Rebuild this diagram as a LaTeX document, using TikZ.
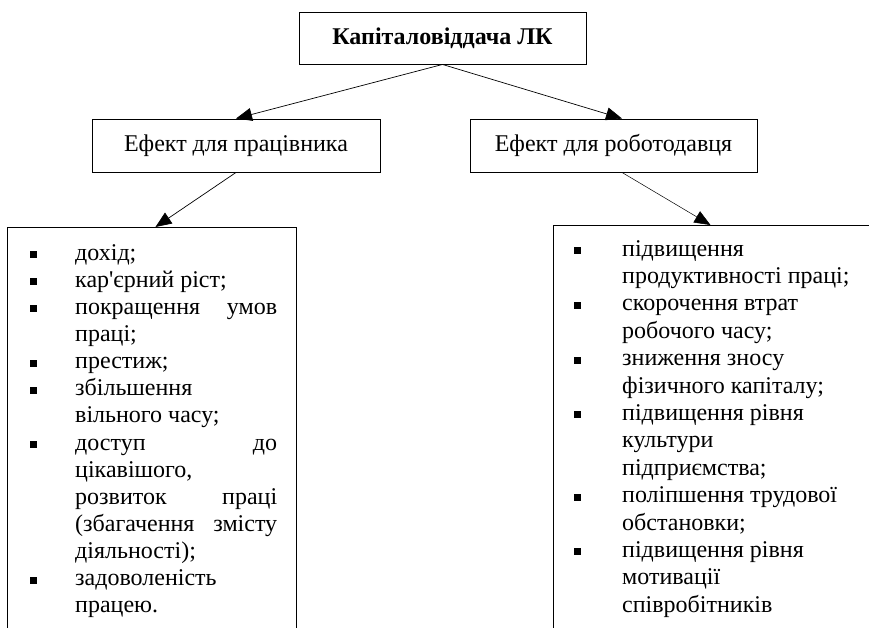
\documentclass[tikz,border=0pt]{standalone}
\usepackage{fontspec}
\setmainfont{Liberation Serif}[Ligatures=TeXOff]
\usetikzlibrary{arrows.meta}
\newcommand\bul{\raisebox{2pt}{\rule{7pt}{7pt}}}
\newcommand\lbit[1]{\hbox{\makebox[45.5pt][l]{\bul}#1}}
\newcommand\lcont[1]{\hbox{\hspace*{45.5pt}#1}}
\newcommand\rbit[1]{\hbox{\makebox[48pt][l]{\bul}#1}}
\newcommand\rcont[1]{\hbox{\hspace*{48pt}#1}}
\newcommand\jl[1]{\makebox[202pt][s]{#1}}
\begin{document}
\begin{tikzpicture}[x=1pt,y=-1pt,
  box/.style={draw, line width=0.9pt, inner sep=0pt},
  conn/.style={line width=0.7pt, -{Triangle[length=16pt,width=13pt]}},
  txt/.style={font=\fontsize{24}{27.15}\selectfont}]
\useasboundingbox (0,0) rectangle (869,627);
\clip (0,0) rectangle (869,627);
\node[box, minimum width=287pt, minimum height=52pt, font=\fontsize{24}{27.15}\selectfont\bfseries] (top) at (442.5,38) {Капіталовіддача ЛК};
\node[box, minimum width=288pt, minimum height=53pt, txt] (emp) at (236,145.5) {Ефект для працівника};
\node[box, minimum width=287pt, minimum height=53pt, txt] (empr) at (613.5,145.5) {Ефект для роботодавця};
\node[box, anchor=north west, minimum width=289pt, minimum height=460pt] (lbox) at (7,227) {};
\node[box, anchor=north west, minimum width=347pt, minimum height=460pt] (rbox) at (553,225) {};
\node[anchor=base west, inner sep=0pt] (ltext) at (29.5,260) {\parbox[t]{260pt}{\fontsize{24}{27.15}\selectfont\parindent0pt
\lbit{дохід;}
\lbit{кар'єрний ріст;}
\lbit{\jl{покращення умов}}
\lcont{праці;}
\lbit{престиж;}
\lbit{збільшення}
\lcont{вільного часу;}
\lbit{\jl{доступ до}}
\lcont{цікавішого,}
\lcont{\jl{розвиток праці}}
\lcont{\jl{(збагачення змісту}}
\lcont{діяльності);}
\lbit{задоволеність}
\lcont{працею.}}};
\node[anchor=base west, inner sep=0pt] (rtext) at (574,256) {\parbox[t]{290pt}{\fontsize{24}{27.4}\selectfont\parindent0pt
\rbit{підвищення}
\rcont{продуктивності праці;}
\rbit{скорочення втрат}
\rcont{робочого часу;}
\rbit{зниження зносу}
\rcont{фізичного капіталу;}
\rbit{підвищення рівня}
\rcont{культури}
\rcont{підприємства;}
\rbit{поліпшення трудової}
\rcont{обстановки;}
\rbit{підвищення рівня}
\rcont{мотивації}
\rcont{співробітників}}};
\draw[conn] (top.south) -- (emp.north);
\draw[conn] (top.south) -- ([xshift=8.5pt]empr.north);
\draw[conn] (emp.south) -- ([xshift=3.5pt]lbox.north);
\draw[conn, line width=0.5pt] ([xshift=8.5pt]empr.south) -- ([xshift=-16.5pt]rbox.north);
\end{tikzpicture}
\end{document}
